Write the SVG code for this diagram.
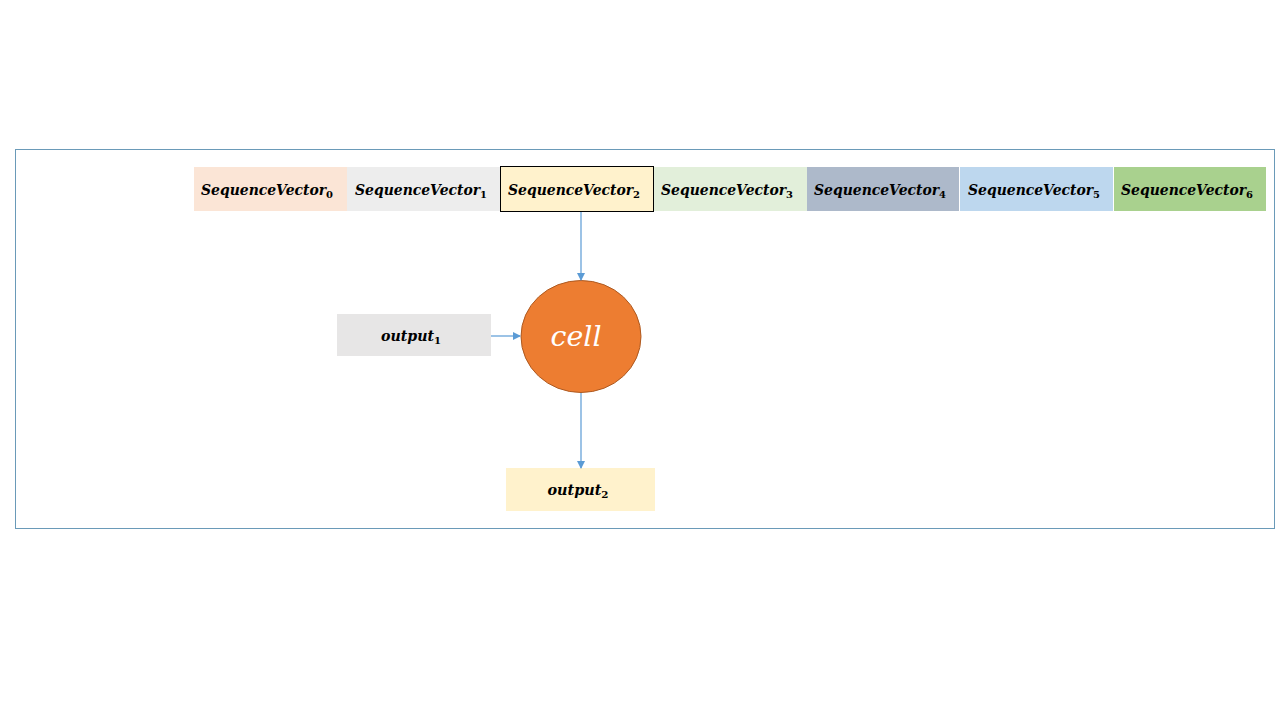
<svg xmlns="http://www.w3.org/2000/svg" width="1280" height="720" viewBox="0 0 1280 720">
<defs>
<marker id="arr" markerWidth="8" markerHeight="8" refX="7" refY="4" orient="auto" markerUnits="userSpaceOnUse">
<path d="M0,0 L8,4 L0,8 Z" fill="#5B9BD5"/>
</marker>
<style>
.lbl{font-family:"DejaVu Serif","Liberation Serif",serif;font-weight:bold;font-style:italic;font-size:14px;fill:#000;text-anchor:middle}
.sub{font-size:10px;font-style:normal}
.conn{stroke:#5B9BD5;stroke-width:1.2;fill:none;marker-end:url(#arr)}
</style>
</defs>
<rect width="1280" height="720" fill="#fff"/>
<rect id="frame" x="15.5" y="149.5" width="1259" height="379" fill="none" stroke="#6A9AB8" stroke-width="1"/>
<g id="sv0"><rect x="194" y="167" width="153" height="44" fill="#FBE5D6"/><text class="lbl" x="267" y="195" textLength="132" lengthAdjust="spacingAndGlyphs">SequenceVector<tspan class="sub" dy="3">0</tspan></text></g>
<g id="sv1"><rect x="347" y="167" width="153" height="44" fill="#EDEDED"/><text class="lbl" x="421" y="195" textLength="132" lengthAdjust="spacingAndGlyphs">SequenceVector<tspan class="sub" dy="3">1</tspan></text></g>
<g id="sv2"><rect x="500.5" y="166.5" width="153" height="45" fill="#FFF2CC" stroke="#000" stroke-width="1"/><text class="lbl" x="574" y="195" textLength="132" lengthAdjust="spacingAndGlyphs">SequenceVector<tspan class="sub" dy="3">2</tspan></text></g>
<g id="sv3"><rect x="654" y="167" width="153" height="44" fill="#E2EFDA"/><text class="lbl" x="727" y="195" textLength="132" lengthAdjust="spacingAndGlyphs">SequenceVector<tspan class="sub" dy="3">3</tspan></text></g>
<g id="sv4"><rect x="807" y="167" width="152" height="44" fill="#ADB9CA"/><text class="lbl" x="880" y="195" textLength="132" lengthAdjust="spacingAndGlyphs">SequenceVector<tspan class="sub" dy="3">4</tspan></text></g>
<g id="sv5"><rect x="960" y="167" width="153" height="44" fill="#BDD7EE"/><text class="lbl" x="1034" y="195" textLength="132" lengthAdjust="spacingAndGlyphs">SequenceVector<tspan class="sub" dy="3">5</tspan></text></g>
<g id="sv6"><rect x="1114" y="167" width="152" height="44" fill="#A9D18E"/><text class="lbl" x="1187" y="195" textLength="132" lengthAdjust="spacingAndGlyphs">SequenceVector<tspan class="sub" dy="3">6</tspan></text></g>
<g id="cell"><ellipse cx="581" cy="336.5" rx="60" ry="56" fill="#ED7D31" stroke="#AE5A21" stroke-width="1"/><text x="576" y="346" font-family="DejaVu Serif, Liberation Serif, serif" font-style="italic" font-size="28" fill="#fff" text-anchor="middle" textLength="51" lengthAdjust="spacingAndGlyphs">cell</text></g>
<g id="output1"><rect x="337" y="314" width="154" height="42" fill="#E7E6E6"/><text class="lbl" x="411" y="341" textLength="60" lengthAdjust="spacingAndGlyphs">output<tspan class="sub" dy="3">1</tspan></text></g>
<g id="output2"><rect x="506" y="468" width="149" height="43" fill="#FFF2CC"/><text class="lbl" x="578" y="495" textLength="61" lengthAdjust="spacingAndGlyphs">output<tspan class="sub" dy="3">2</tspan></text></g>
<g id="connectors">
<line class="conn" x1="581" y1="212" x2="581" y2="280"/>
<line class="conn" x1="491" y1="336" x2="520" y2="336"/>
<line class="conn" x1="581" y1="393" x2="581" y2="468"/>
</g>
</svg>
